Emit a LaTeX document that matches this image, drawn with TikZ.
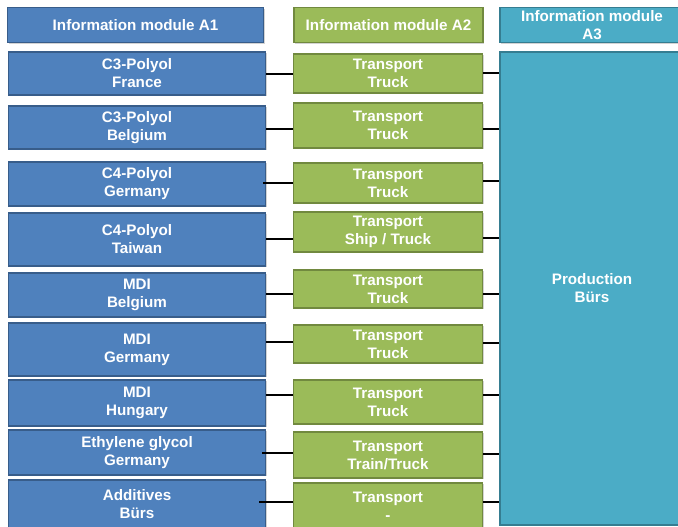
\documentclass[tikz,border=0pt]{standalone}
\usepackage{fontspec}
\setmainfont{Liberation Sans}
\usetikzlibrary{shadows}
\definecolor{blueF}{HTML}{4F81BD}
\definecolor{blueD}{HTML}{385D8A}
\definecolor{greenF}{HTML}{9BBB59}
\definecolor{greenD}{HTML}{71893F}
\definecolor{tealF}{HTML}{4BACC6}
\definecolor{tealD}{HTML}{357D91}
\begin{document}
\begin{tikzpicture}[x=1pt,y=-1pt,
  base/.style={draw, line width=1.5pt, inner sep=0pt, align=center, text=white,
    font=\fontsize{15.2}{18}\selectfont\bfseries,
    drop shadow={shadow xshift=1.3pt, shadow yshift=-1.3pt, opacity=0.35, fill=black!50}},
  bluebox/.style={base, fill=blueF, draw=blueD},
  greenbox/.style={base, fill=greenF, draw=greenD, minimum width=189pt},
  tealbox/.style={base, fill=tealF, draw=tealD, minimum width=184pt},
  conn/.style={draw=black, line width=1.6pt}
]
\useasboundingbox (0,0) rectangle (678,527);
\clip (0,0) rectangle (678,527);

% headers
\node[bluebox, minimum width=256pt, minimum height=35pt] (h1) at (135.5,25) {Information module A1};
\node[greenbox, minimum height=35pt] (h2) at (388.5,25) {Information module A2};
\node[tealbox, minimum height=35pt] (h3) at (592,25) {Information module\\A3};

% A1 column
\begin{scope}[every node/.append style={bluebox, minimum width=257pt}]
\node[minimum height=43pt] (b1) at (137,73.5) {C3-Polyol\\France};
\node[minimum height=43pt] (b2) at (137,127.5) {C3-Polyol\\Belgium};
\node[minimum height=44pt] (b3) at (137,184) {C4-Polyol\\Germany};
\node[minimum height=53pt] (b4) at (137,239.5) {C4-Polyol\\Taiwan};
\node[minimum height=44pt] (b5) at (137,295) {MDI\\Belgium};
\node[minimum height=53pt] (b6) at (137,349.5) {MDI\\Germany};
\node[minimum height=46pt] (b7) at (137,403) {MDI\\Hungary};
\node[minimum height=45pt] (b8) at (137,452.5) {Ethylene glycol\\Germany};
\node[minimum height=48pt] (b9) at (137,504) {Additives\\Bürs};
\end{scope}

% A2 column
\begin{scope}[every node/.append style={greenbox}]
\node[minimum height=39pt] (g1) at (388,73.5) {Transport\\Truck};
\node[minimum height=45pt] (g2) at (388,125.5) {Transport\\Truck};
\node[minimum height=40pt] (g3) at (388,183) {Transport\\Truck};
\node[minimum height=40pt] (g4) at (388,232) {Transport\\Ship / Truck};
\node[minimum height=38pt] (g5) at (388,289) {Transport\\Truck};
\node[minimum height=38pt] (g6) at (388,344) {Transport\\Truck};
\node[minimum height=44pt] (g7) at (388,402) {Transport\\Truck};
\node[minimum height=46pt] (g8) at (388,455) {Transport\\Train/Truck};
\node[minimum height=46pt] (g9) at (388,506) {Transport\\-};
\end{scope}

% A3 column
\node[tealbox, minimum height=473pt] (p) at (592,288.5) {Production\\Bürs};

% connectors A1 -> A2
\draw[conn] (b1.east |- 0,74) -- (g1.west |- 0,74);
\draw[conn] (b2.east |- 0,129) -- (g2.west |- 0,129);
\draw[conn, line width=2.4pt] ([xshift=-3pt]b3.east |- 0,183) -- (g3.west |- 0,183);
\draw[conn] (b4.east |- 0,239) -- (g4.west |- 0,239);
\draw[conn] (b5.east |- 0,294) -- (g5.west |- 0,294);
\draw[conn] (b6.east |- 0,342) -- (g6.west |- 0,342);
\draw[conn] (b7.east |- 0,395) -- (g7.west |- 0,395);
\draw[conn] ([xshift=-4pt]b8.east |- 0,453) -- (g8.west |- 0,453);
\draw[conn] ([xshift=-7pt]b9.east |- 0,502) -- (g9.west |- 0,502);

% connectors A2 -> A3
\draw[conn] (g1.east |- 0,73) -- (p.west |- 0,73);
\draw[conn] (g2.east |- 0,129) -- (p.west |- 0,129);
\draw[conn, line width=2.4pt] (g3.east |- 0,181) -- (p.west |- 0,181);
\draw[conn] (g4.east |- 0,238) -- (p.west |- 0,238);
\draw[conn] (g5.east |- 0,294) -- (p.west |- 0,294);
\draw[conn] (g6.east |- 0,343) -- (p.west |- 0,343);
\draw[conn] (g7.east |- 0,395) -- (p.west |- 0,395);
\draw[conn] (g8.east |- 0,454) -- (p.west |- 0,454);
\draw[conn] (g9.east |- 0,502) -- (p.west |- 0,502);
\end{tikzpicture}
\end{document}
